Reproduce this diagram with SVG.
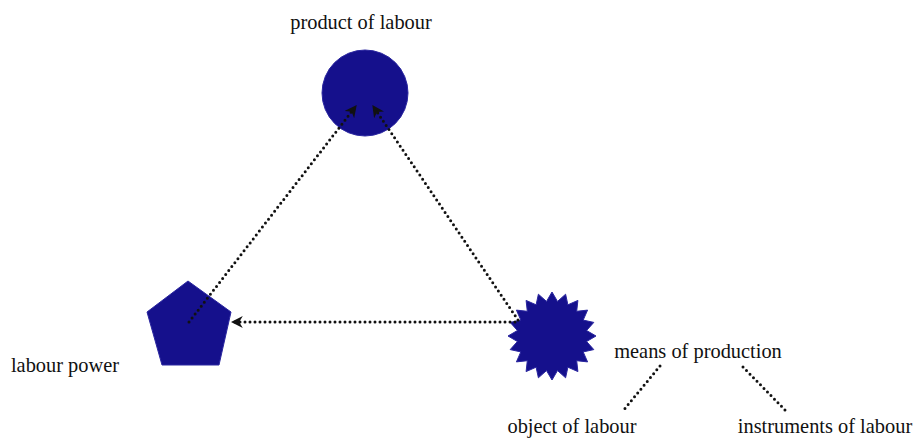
<svg xmlns="http://www.w3.org/2000/svg" width="913" height="439" viewBox="0 0 913 439">
<style>
.shape{fill:#15108c;stroke:#2a26a0;stroke-width:1}
.dot{fill:none;stroke:#111;stroke-width:3;stroke-linecap:round;stroke-dasharray:0 5}
text{font-family:"Liberation Serif","Times New Roman",serif;font-size:20.4px;fill:#111}
</style>
<defs>
<marker id="ah" viewBox="0 0 10 10" refX="9" refY="5" markerWidth="4" markerHeight="4" orient="auto" markerUnits="strokeWidth">
<path d="M0,0 L10,5 L0,10 L3,5 Z" fill="#111"/>
</marker>
</defs>
<rect width="913" height="439" fill="#fff"/>
<g id="product">
<circle class="shape" cx="365" cy="93" r="43"/>
<text x="361" y="29" text-anchor="middle">product of labour</text>
</g>
<g id="labour-power">
<polygon class="shape" points="188,281 231,312 219,365 162,365 147,312"/>
<text x="65" y="372" text-anchor="middle">labour power</text>
</g>
<g id="means">
<polygon class="shape" points="552,292 557.5,301.4 565.6,294.2 567.9,304.8 577.9,300.4 576.7,311.3 587.6,310.1 583.2,320.1 593.8,322.4 586.6,330.5 596,336 586.6,341.5 593.8,349.6 583.2,351.9 587.6,361.9 576.7,360.7 577.9,371.6 567.9,367.2 565.6,377.8 557.5,370.6 552,380 546.5,370.6 538.4,377.8 536.1,367.2 526.1,371.6 527.3,360.7 516.4,361.9 520.8,351.9 510.2,349.6 517.4,341.5 508,336 517.4,330.5 510.2,322.4 520.8,320.1 516.4,310.1 527.3,311.3 526.1,300.4 536.1,304.8 538.4,294.2 546.5,301.4"/>
<text x="698" y="358" text-anchor="middle">means of production</text>
</g>
<g id="object">
<text x="572" y="433" text-anchor="middle">object of labour</text>
</g>
<g id="instruments">
<text x="825" y="433" text-anchor="middle">instruments of labour</text>
</g>
<g id="connectors">
<line class="dot" x1="189" y1="322" x2="356" y2="106" marker-end="url(#ah)"/>
<line class="dot" x1="518" y1="320" x2="373" y2="106" marker-end="url(#ah)"/>
<line class="dot" x1="515" y1="322" x2="232" y2="322" marker-end="url(#ah)"/>
<line class="dot" x1="660" y1="366" x2="622" y2="412"/>
<line class="dot" x1="743" y1="367" x2="788" y2="413"/>
</g>
</svg>
